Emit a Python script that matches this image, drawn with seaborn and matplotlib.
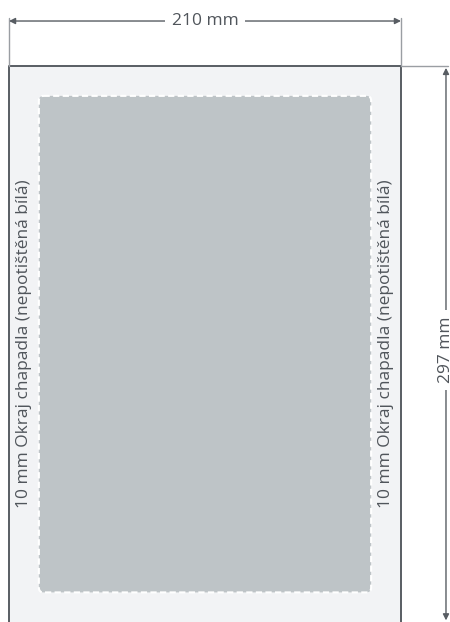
import matplotlib
matplotlib.use("Agg")
import matplotlib.pyplot as plt
import seaborn as sns
from matplotlib.patches import Rectangle, FancyBboxPatch

# page and print area, in mm
page_w = 210
page_h = 297
print_area = [16, 16, 194, 282]   # x0, y0, x1, y1
dim_labels = ["210 mm", "297 mm"]
margin_label = "10 mm Okraj chapadla (nepotištěná bílá)"
margin_label_x = [8.3, 202.2]

sns.set_theme(style="white")
plt.rcParams['font.family'] = ['Open Sans', 'DejaVu Sans']

px_per_mm = 392 / page_w
fig = plt.figure(figsize=(4.5, 6.22), dpi=100)
ax = fig.add_axes([0, 0, 1, 1])
ax.set_xlim(-9 / px_per_mm, (450 - 9) / px_per_mm)
ax.set_ylim((622 - 66) / px_per_mm, -66 / px_per_mm)
ax.axis("off")

dark = "#585d63"
light = "#9a9ea3"
txt = "#50555b"
fs = 12.5

# page (bottom edge runs off the picture)
ax.add_patch(Rectangle((0, 0), page_w, page_h + 5, facecolor="#f2f3f5",
                       edgecolor="none", zorder=1))
ax.plot([0, 0, page_w, page_w], [page_h + 5, 0, 0, page_h + 5],
        color=dark, lw=1.4, zorder=3)

# print area
x0, y0, x1, y1 = print_area
ax.add_patch(FancyBboxPatch((x0, y0), x1 - x0, y1 - y0,
                            boxstyle="round,pad=0,rounding_size=2.5",
                            facecolor="#bec4c7", edgecolor="white",
                            linewidth=1.5, linestyle=(0, (3, 1.6)), zorder=2))

arrow = dict(arrowstyle="-|>", color=dark, lw=1, mutation_scale=9,
             shrinkA=0, shrinkB=0)

# width dimension
dim_y = -24.1
for xe in [0, page_w]:
    ax.plot([xe, xe], [dim_y - 1.5, 0], color=light, lw=1, zorder=3)
ax.annotate("", xy=(0, dim_y), xytext=(page_w / 2, dim_y), arrowprops=arrow)
ax.annotate("", xy=(page_w, dim_y), xytext=(page_w / 2, dim_y), arrowprops=arrow)
ax.text(page_w / 2, dim_y, dim_labels[0], ha="center", va="center",
        fontsize=fs, color=txt, zorder=5,
        bbox=dict(facecolor="white", edgecolor="none", pad=5))

# height dimension
dim_x = 234.1
ax.plot([page_w, dim_x + 1], [0, 0], color=light, lw=1, zorder=3)
ax.annotate("", xy=(dim_x, 1), xytext=(dim_x, page_h / 2), arrowprops=arrow)
ax.annotate("", xy=(dim_x, page_h), xytext=(dim_x, page_h / 2), arrowprops=arrow)
ax.text(dim_x, 152, dim_labels[1], ha="center", va="center", rotation=90,
        fontsize=fs, color=txt, zorder=5,
        bbox=dict(facecolor="white", edgecolor="none", pad=5))

# margin labels
for mx in margin_label_x:
    ax.text(mx, 148.5, margin_label, ha="center", va="center", rotation=90,
            fontsize=fs, color=txt, zorder=5)

fig.savefig("out.png", dpi=100)
